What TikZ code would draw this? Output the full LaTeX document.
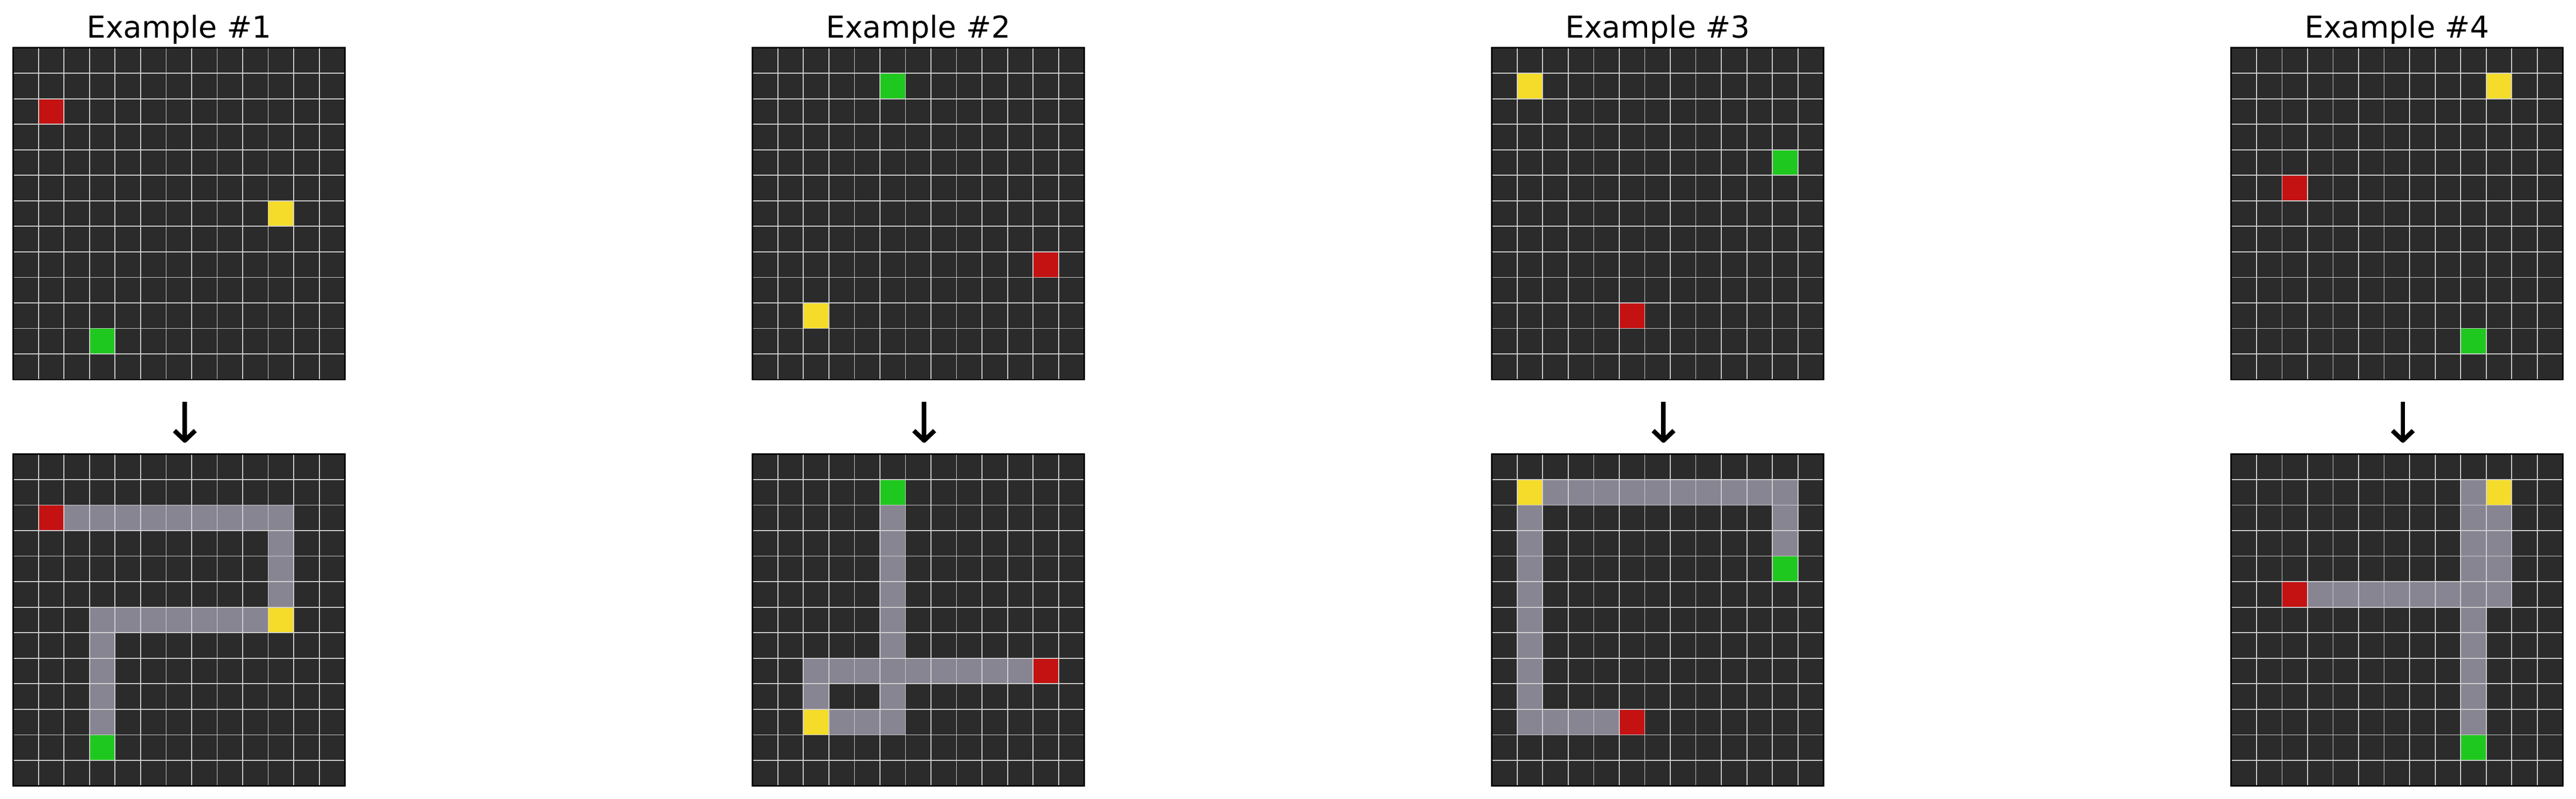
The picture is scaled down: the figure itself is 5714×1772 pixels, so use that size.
\documentclass[tikz,border=0pt]{standalone}
\usepackage{fontspec}
\setmainfont{DejaVu Sans}
\usetikzlibrary{positioning,calc,arrows.meta}

\definecolor{cellbg}{HTML}{2B2B2B}
\definecolor{ruleclr}{HTML}{D2D2D2}
\definecolor{arcred}{HTML}{C41212}
\definecolor{arcyellow}{HTML}{F5DC2A}
\definecolor{arcgreen}{HTML}{1FC81F}
\definecolor{arcgray}{HTML}{888592}

\newcommand{\cellw}{56.615}
% fill cells (c1,r1) .. (c2,r2) of a board
\newcommand{\cells}[6]{%
  \fill[#6] ($(#1.north west)+(#2*\cellw,#3*\cellw)$) rectangle ($(#1.north west)+(#4*\cellw+\cellw,#5*\cellw+\cellw)$);}
% rules and frame of a board
\newcommand{\rules}[1]{%
  \foreach \i in {1,...,12} {
    \draw[rule] ($(#1.north west)+(\i*\cellw,0)$) -- ($(#1.south west)+(\i*\cellw,0)$);
    \draw[rule] ($(#1.north west)+(0,\i*\cellw)$) -- ($(#1.north east)+(0,\i*\cellw)$);
  }
  \draw[frame] (#1.north west) rectangle (#1.south east);}

\tikzset{
  board/.style={fill=cellbg, minimum size=7.36cm, inner sep=0pt, outer sep=0pt},
  rule/.style={ruleclr, line width=0.02cm},
  frame/.style={black, line width=0.033cm},
  title/.style={anchor=base, inner sep=0pt, font=\fontsize{19pt}{23pt}\selectfont},
  flow/.style={line width=0.1cm, shorten <=0.49cm, shorten >=0.25cm,
    -{Straight Barb[length=0.22cm, width=0.46cm, line join=round, line cap=butt]}},
  start/.style={fill=arcred},
  goal/.style={fill=arcgreen},
  via/.style={fill=arcyellow},
  hit/.style={fill=arcgray}
}

\begin{document}
\begin{tikzpicture}[x=0.01cm, y=-0.01cm]
      \useasboundingbox (0,0) rectangle (5714,1772);
      % boards
      \node[board] (in1) at (397,474) {};
      \node[board, right=9.03cm of in1] (in2) {};
      \node[board, right=9.03cm of in2] (in3) {};
      \node[board, right=9.03cm of in3] (in4) {};
      \node[board, below=1.65cm of in1] (out1) {};
      \node[board, below=1.65cm of in2] (out2) {};
      \node[board, below=1.65cm of in3] (out3) {};
      \node[board, below=1.65cm of in4] (out4) {};
      % example 1
      \cells{in1}{1}{2}{1}{2}{start}
      \cells{in1}{10}{6}{10}{6}{via}
      \cells{in1}{3}{11}{3}{11}{goal}
      \cells{out1}{2}{2}{10}{2}{hit}
      \cells{out1}{10}{3}{10}{5}{hit}
      \cells{out1}{3}{6}{9}{6}{hit}
      \cells{out1}{3}{7}{3}{10}{hit}
      \cells{out1}{1}{2}{1}{2}{start}
      \cells{out1}{10}{6}{10}{6}{via}
      \cells{out1}{3}{11}{3}{11}{goal}
      % example 2
      \cells{in2}{5}{1}{5}{1}{goal}
      \cells{in2}{11}{8}{11}{8}{start}
      \cells{in2}{2}{10}{2}{10}{via}
      \cells{out2}{5}{2}{5}{7}{hit}
      \cells{out2}{2}{8}{10}{8}{hit}
      \cells{out2}{2}{9}{2}{9}{hit}
      \cells{out2}{5}{9}{5}{9}{hit}
      \cells{out2}{3}{10}{5}{10}{hit}
      \cells{out2}{5}{1}{5}{1}{goal}
      \cells{out2}{11}{8}{11}{8}{start}
      \cells{out2}{2}{10}{2}{10}{via}
      % example 3
      \cells{in3}{1}{1}{1}{1}{via}
      \cells{in3}{11}{4}{11}{4}{goal}
      \cells{in3}{5}{10}{5}{10}{start}
      \cells{out3}{2}{1}{11}{1}{hit}
      \cells{out3}{11}{2}{11}{3}{hit}
      \cells{out3}{1}{2}{1}{10}{hit}
      \cells{out3}{2}{10}{4}{10}{hit}
      \cells{out3}{1}{1}{1}{1}{via}
      \cells{out3}{11}{4}{11}{4}{goal}
      \cells{out3}{5}{10}{5}{10}{start}
      % example 4
      \cells{in4}{10}{1}{10}{1}{via}
      \cells{in4}{2}{5}{2}{5}{start}
      \cells{in4}{9}{11}{9}{11}{goal}
      \cells{out4}{9}{1}{9}{1}{hit}
      \cells{out4}{9}{2}{10}{5}{hit}
      \cells{out4}{3}{5}{8}{5}{hit}
      \cells{out4}{9}{6}{9}{10}{hit}
      \cells{out4}{10}{1}{10}{1}{via}
      \cells{out4}{2}{5}{2}{5}{start}
      \cells{out4}{9}{11}{9}{11}{goal}
      % rules, titles, arrows
      \foreach \k in {1,...,4} {
        \rules{in\k}
        \rules{out\k}
        \node[title] (t\k) at ([yshift=0.22cm]in\k.north) {Example \#\k};
        \draw[flow] ([xshift=0.13cm]in\k.south) -- ([xshift=0.13cm]out\k.north);
      }
\end{tikzpicture}
\end{document}
